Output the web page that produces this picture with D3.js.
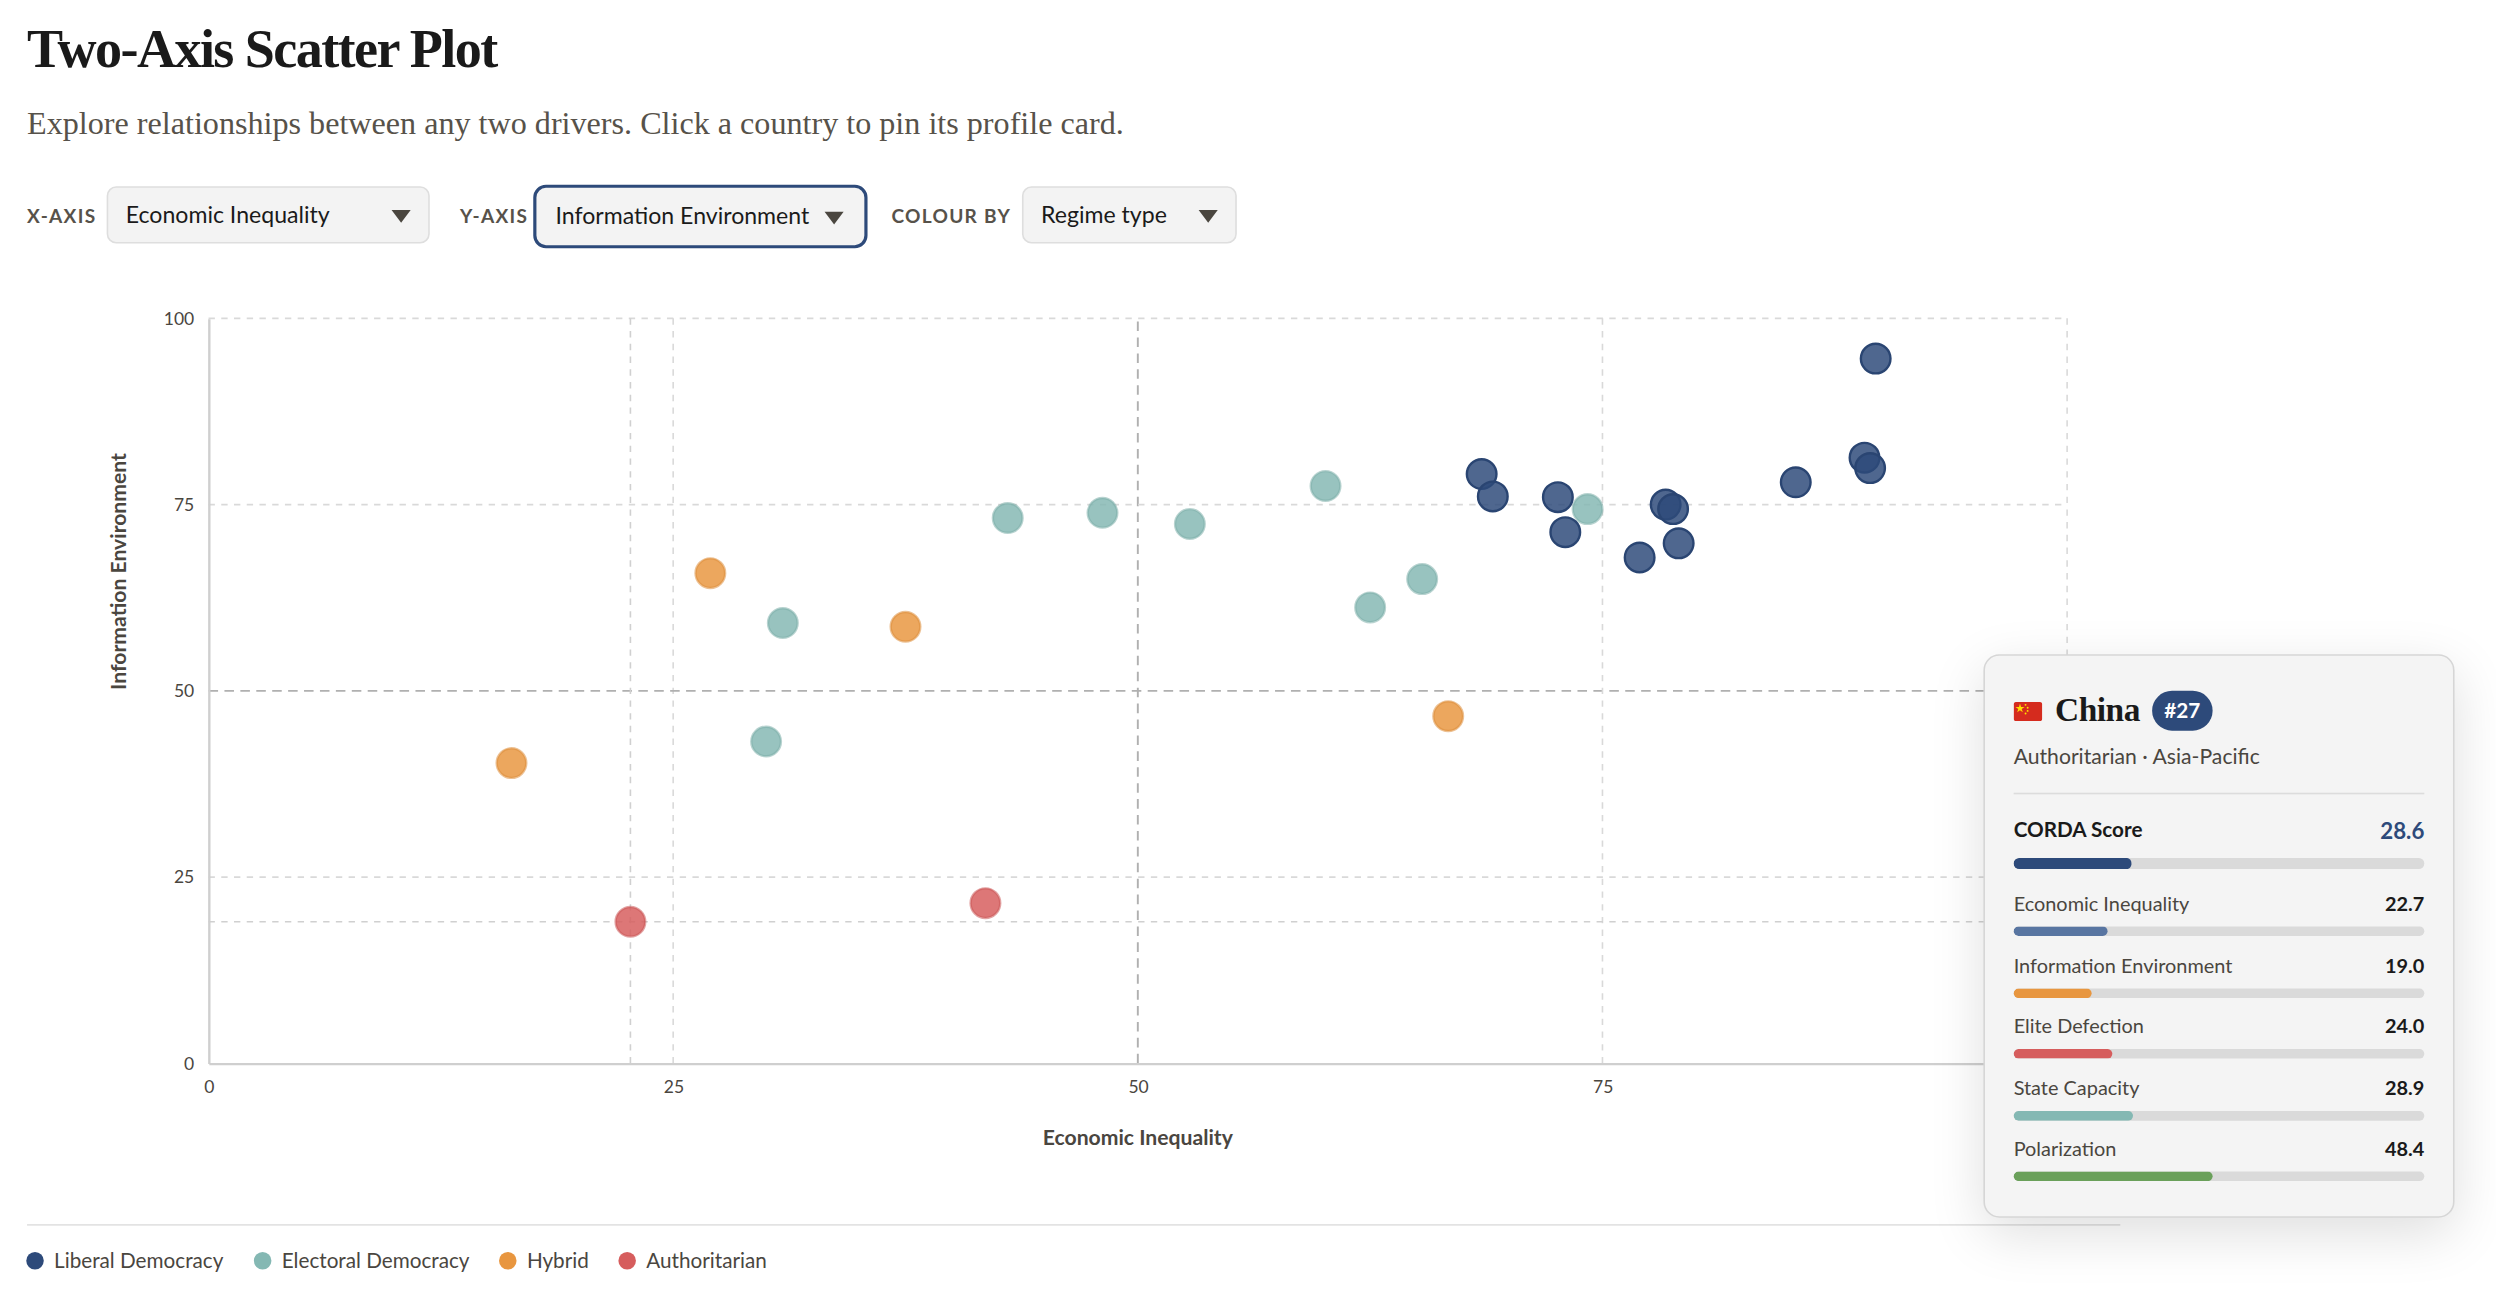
<!DOCTYPE html>
<html>
<head>
  <script src="https://cdnjs.cloudflare.com/ajax/libs/d3/7.8.5/d3.min.js"></script>
  <style>
    html, body { margin: 0; padding: 0; background: #fff; overflow: hidden; }
    body { width: 2496px; height: 1306px; }
    #page {
      position: absolute; left: 0; top: 0;
      width: 1568px;
      height: 820px;
      transform: scale(1.5918);
      transform-origin: 0 0;
      font-family: "Lato", "Noto Sans", sans-serif;
      color: #333;
      overflow: hidden;
    }
    .title {
      position: absolute; left: 17px; top: 12px;
      font-family: "Liberation Serif", "DejaVu Serif", serif;
      font-weight: bold; font-size: 34px; color: #1a1a1a;
      letter-spacing: -1px;
    }
    .subtitle {
      position: absolute; left: 17px; top: 66px;
      font-family: "Liberation Serif", "DejaVu Serif", serif;
      font-size: 20.2px; color: #57524a;
    }
    .ctl-label {
      position: absolute; top: 128px;
      font-size: 12px; font-weight: bold; letter-spacing: 0.8px;
      color: #57524a;
    }
    .select {
      position: absolute; top: 117px; height: 36px;
      background: #f3f3f3; border: 1px solid #dedede; border-radius: 6px;
      box-sizing: border-box; font-size: 14.5px; color: #1a1a1a;
      line-height: 34px; padding-left: 11px;
    }
    .select.focus { border: 2px solid #2d4a7a; top: 116px; height: 40px; line-height: 36px; border-radius: 8px; padding-left: 12px; }
    .select .arrow {
      position: absolute; right: 11px; top: 14px;
      width: 0; height: 0;
      border-left: 6px solid transparent; border-right: 6px solid transparent;
      border-top: 8px solid #4a463f;
    }
    .select.focus .arrow { top: 15px; right: 13px; }
    #card {
      position: absolute; left: 1246px; top: 411px; width: 296px; height: 354px;
      box-sizing: border-box; background: #f4f4f4; border: 1px solid #d6d6d6;
      border-radius: 10px; box-shadow: 0 10px 34px rgba(0,0,0,0.13);
      padding: 0 18px;
    }
    #card .head { position: absolute; left: 18px; top: 22px; height: 26px; }
    #card .name {
      position: absolute; left: 26px; top: 0px;
      font-family: "Liberation Serif", "DejaVu Serif", serif; font-weight: bold; font-size: 21px; color: #1a1a1a;
      letter-spacing: -0.3px;
    }
    #card .badge {
      position: absolute; left: 87px; top: 0px; width: 38px; height: 25px;
      border-radius: 13px; background: #2d4a7a; color: #fff;
      font-size: 13px; font-weight: bold; text-align: center; line-height: 25px;
    }
    #card .meta { position: absolute; left: 18px; top: 55px; font-size: 13.3px; color: #4a463f; }
    #card .divider { position: absolute; left: 18px; right: 18px; top: 86px; border-top: 1px solid #dcdcdc; }
    #card .row { position: absolute; left: 18px; right: 18px; height: 30px; }
    #card .row .lab { position: absolute; left: 0; top: 0; font-size: 12.5px; color: #4a463f; }
    #card .row .val { position: absolute; right: 0; top: 0; font-size: 12.5px; font-weight: bold; color: #1a1a1a; }
    #card .row .track { position: absolute; left: 0; right: 0; top: 22px; height: 6px; border-radius: 3px; background: #dadada; overflow: hidden; }
    #card .row .fill { position: absolute; left: 0; top: 0; bottom: 0; border-radius: 3px; }
    #card .row.main .lab { font-size: 13px; font-weight: bold; color: #1a1a1a; }
    #card .row.main .val { font-size: 14px; font-weight: bold; color: #2d4a7a; }
    #card .row.main .track { top: 26px; height: 7px; border-radius: 3.5px; }
  </style>
</head>
<body>
<div id="page">
  <div class="title">Two-Axis Scatter Plot</div>
  <div class="subtitle">Explore relationships between any two drivers. Click a country to pin its profile card.</div>
  <div id="controls"></div>
  <svg id="chart" width="1568" height="820" style="position:absolute;left:0;top:0"></svg>
  <div id="card"></div>
</div>
<script>
// regime categories
const regimes = ["Liberal Democracy", "Electoral Democracy", "Hybrid", "Authoritarian"];
const regimeColors = ["#2d4a7a", "#84b8b3", "#e8963f", "#d65d5d"];

// one entry per country: x = Economic Inequality, y = Information Environment
const pointRegime = [
  3, 3,
  2, 2, 2, 2,
  1, 1, 1, 1, 1, 1, 1, 1, 1,
  0, 0, 0, 0, 0, 0, 0, 0, 0, 0, 0, 0
];
const econInequality = [
  22.7, 41.8,
  16.3, 27.0, 37.5, 66.7,
  30.0, 30.9, 43.0, 48.1, 52.8, 60.1, 62.5, 65.3, 74.2,
  68.5, 69.1, 72.6, 73.0, 77.0, 78.4, 78.8, 79.1, 85.4, 89.1, 89.4, 89.7
];
const infoEnvironment = [
  19.0, 21.5,
  40.3, 65.8, 58.6, 46.6,
  43.2, 59.1, 73.2, 73.9, 72.4, 77.5, 61.2, 65.0, 74.4,
  79.1, 76.1, 76.0, 71.3, 67.9, 75.0, 74.4, 69.8, 78.0, 81.3, 79.9, 94.6
];

// axis ticks and labels
const tickValues = [0, 25, 50, 75, 100];
const xLabel = "Economic Inequality";
const yLabel = "Information Environment";

// control row
const controlLabels = ["X-AXIS", "Y-AXIS", "COLOUR BY"];
const controlValues = ["Economic Inequality", "Information Environment", "Regime type"];

// pinned profile card (China)
const selected = { name: "China", rank: "#27", meta: "Authoritarian · Asia-Pacific", x: 22.7, y: 19.0 };
const scoreLabel = "CORDA Score";
const scoreValue = 28.6;
const driverNames = ["Economic Inequality", "Information Environment", "Elite Defection", "State Capacity", "Polarization"];
const driverValues = [22.7, 19.0, 24.0, 28.9, 48.4];
const driverColors = ["#5875a1", "#e8963f", "#d65d5d", "#84b8b3", "#6aa05a"];

// ---- controls
const ctlPos = [
  { lx: 17, sx: 67, sw: 203 },
  { lx: 289, sx: 335, sw: 210, focus: true },
  { lx: 560, sx: 642, sw: 135 }
];
const controls = d3.select("#controls");
controlLabels.forEach((l, i) => {
  controls.append("div").attr("class", "ctl-label").style("left", ctlPos[i].lx + "px").text(l);
  const s = controls.append("div")
    .attr("class", "select" + (ctlPos[i].focus ? " focus" : ""))
    .style("left", ctlPos[i].sx + "px")
    .style("width", ctlPos[i].sw + "px")
    .text(controlValues[i]);
  s.append("div").attr("class", "arrow");
});

// ---- chart
const svg = d3.select("#chart");
const x = d3.scaleLinear().domain([0, 100]).range([131, 1298.6]);
const y = d3.scaleLinear().domain([0, 100]).range([668, 200]);

const grid = svg.append("g");
tickValues.filter(v => v > 0).forEach(v => {
  const mid = v === 50;
  grid.append("line")
    .attr("x1", x(v)).attr("x2", x(v)).attr("y1", y(0)).attr("y2", y(100))
    .attr("stroke", mid ? "#b0b0b0" : "#d9d9d9")
    .attr("stroke-width", mid ? 1.2 : 1)
    .attr("stroke-dasharray", mid ? "6,4" : "4,4");
  grid.append("line")
    .attr("x1", x(0)).attr("x2", x(100)).attr("y1", y(v)).attr("y2", y(v))
    .attr("stroke", mid ? "#b0b0b0" : "#d9d9d9")
    .attr("stroke-width", mid ? 1.2 : 1)
    .attr("stroke-dasharray", mid ? "6,4" : "4,4");
});

// crosshair on the pinned country
grid.append("line")
  .attr("x1", x(selected.x)).attr("x2", x(selected.x)).attr("y1", y(0)).attr("y2", y(100))
  .attr("stroke", "#d0d0d0").attr("stroke-dasharray", "4,4");
grid.append("line")
  .attr("x1", x(0)).attr("x2", x(100)).attr("y1", y(selected.y)).attr("y2", y(selected.y))
  .attr("stroke", "#d0d0d0").attr("stroke-dasharray", "4,4");

const xAxis = svg.append("g")
  .attr("transform", `translate(0,${y(0)})`)
  .call(d3.axisBottom(x).tickValues(tickValues).tickSize(0).tickPadding(11));
const yAxis = svg.append("g")
  .attr("transform", `translate(${x(0)},0)`)
  .call(d3.axisLeft(y).tickValues(tickValues).tickSize(0).tickPadding(9));
[xAxis, yAxis].forEach(a => {
  a.select(".domain").attr("stroke", "#cfcfcf").attr("stroke-width", 1.5);
  a.selectAll("text").attr("fill", "#4a463f").style("font-size", "11px").style("font-family", "Lato, 'Noto Sans', sans-serif");
});

svg.append("text")
  .attr("x", x(50)).attr("y", 719)
  .attr("text-anchor", "middle")
  .style("font-size", "13.3px").style("font-weight", "bold").attr("fill", "#4a463f")
  .text(xLabel);
svg.append("text")
  .attr("transform", "translate(79,359) rotate(-90)")
  .attr("text-anchor", "middle")
  .style("font-size", "13.3px").style("font-weight", "bold").attr("fill", "#4a463f")
  .text(yLabel);

// points
const pts = econInequality.map((v, i) => ({ x: v, y: infoEnvironment[i], r: pointRegime[i] }));
svg.append("g").selectAll("circle")
  .data(pts)
  .join("circle")
    .attr("cx", d => x(d.x))
    .attr("cy", d => y(d.y))
    .attr("r", 9.3)
    .attr("fill", d => regimeColors[d.r])
    .attr("fill-opacity", 0.84)
    .attr("stroke", d => d3.color(regimeColors[d.r]).darker(d.r === 0 ? 0.2 : 0.15))
    .attr("stroke-opacity", d => d.r === 0 ? 1 : 0.55)
    .attr("stroke-width", 1.5);

// legend
svg.append("line")
  .attr("x1", 17).attr("x2", 1332).attr("y1", 769.5).attr("y2", 769.5)
  .attr("stroke", "#e3e3e3");
const legendX = [22, 165, 319, 394];
const legend = svg.append("g").selectAll("g")
  .data(regimes)
  .join("g")
    .attr("transform", (d, i) => `translate(${legendX[i]},792)`);
legend.append("circle").attr("r", 5.5).attr("fill", (d, i) => regimeColors[i]);
legend.append("text")
  .attr("x", 12).attr("y", 4.5)
  .style("font-size", "13px").attr("fill", "#4a463f")
  .text(d => d);

// ---- profile card
const card = d3.select("#card");
const head = card.append("div").attr("class", "head");
const flag = head.append("svg").attr("width", 18).attr("height", 12)
  .style("position", "absolute").style("left", "0px").style("top", "7px");
flag.append("rect").attr("width", 18).attr("height", 12).attr("rx", 1.5).attr("fill", "#d52b1e");
flag.append("path").attr("d", d3.symbol(d3.symbolStar, 10)()).attr("transform", "translate(4,4)").attr("fill", "#ffde00");
[[7.5, 1.8], [8.8, 3.6], [8.8, 5.6], [7.5, 7.2]].forEach(p =>
  flag.append("circle").attr("cx", p[0]).attr("cy", p[1]).attr("r", 0.6).attr("fill", "#ffde00"));
head.append("div").attr("class", "name").text(selected.name);
head.append("div").attr("class", "badge").text(selected.rank);
card.append("div").attr("class", "meta").text(selected.meta);
card.append("div").attr("class", "divider");

const rows = [{ n: scoreLabel, v: scoreValue, c: "#2d4a7a", main: true }]
  .concat(driverNames.map((n, i) => ({ n: n, v: driverValues[i], c: driverColors[i] })));
const rowTop = [101, 148, 187, 225, 264, 302];
const barScale = d3.scaleLinear().domain([0, 100]).range([0, 100]);
rows.forEach((r, i) => {
  const row = card.append("div").attr("class", "row" + (r.main ? " main" : "")).style("top", rowTop[i] + "px");
  row.append("div").attr("class", "lab").text(r.n);
  row.append("div").attr("class", "val").text(r.v.toFixed(1));
  row.append("div").attr("class", "track")
    .append("div").attr("class", "fill")
      .style("width", barScale(r.v) + "%")
      .style("background", r.c);
});
</script>
</body>
</html>
